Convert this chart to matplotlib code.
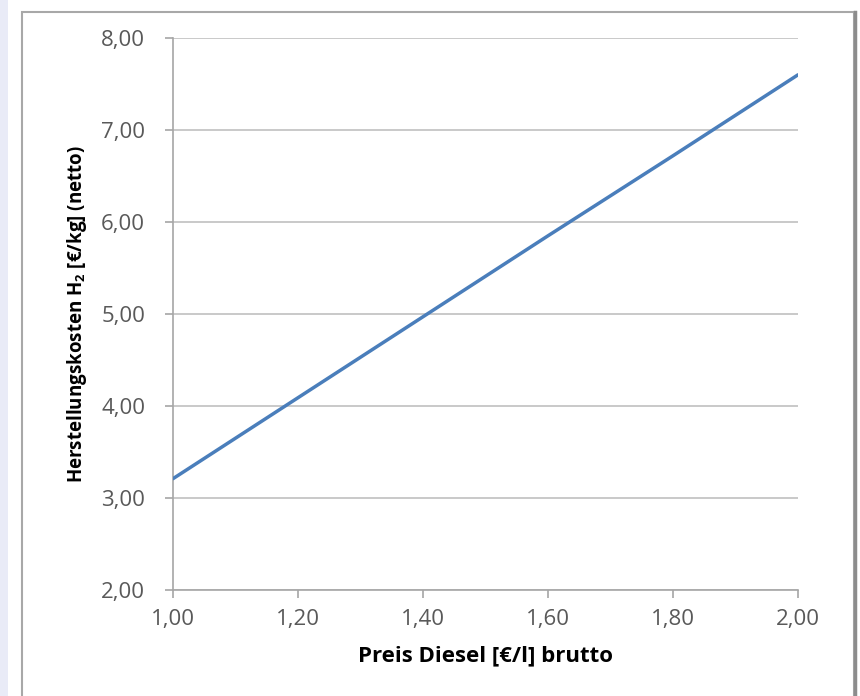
import matplotlib.pyplot as plt
from matplotlib.patches import Rectangle
from matplotlib.lines import Line2D
from matplotlib.ticker import FuncFormatter

# Data
diesel_price = [1.00, 1.20, 1.40, 1.60, 1.80, 2.00]
h2_cost = [3.21, 4.09, 4.97, 5.85, 6.72, 7.60]
x_ticks = [1.0, 1.2, 1.4, 1.6, 1.8, 2.0]
y_ticks = [2, 3, 4, 5, 6, 7, 8]

plt.rcParams["font.family"] = ["Open Sans", "DejaVu Sans"]
plt.rcParams["mathtext.fontset"] = "custom"
plt.rcParams["mathtext.rm"] = "Open Sans"
plt.rcParams["mathtext.bf"] = "Open Sans:bold"

W, H = 860, 696
fig = plt.figure(figsize=(W / 100, H / 100), dpi=100, facecolor="white")

# outer frame like the screenshot
fig.patches.append(Rectangle((0, 0), 8 / W, 1, transform=fig.transFigure,
                             facecolor="#e9ebf7", edgecolor="none", zorder=0))
fig.patches.append(Rectangle((22 / W, -0.01), (854 - 22) / W, 1 - 12 / H + 0.01,
                             transform=fig.transFigure, facecolor="none",
                             edgecolor="#a8a8a8", lw=1.5, zorder=0))
fig.lines.append(Line2D([855 / W, 855 / W], [0, 1 - 12 / H],
                        transform=fig.transFigure, color="#8c8c8c", lw=2.5))

ax = fig.add_axes([173 / W, 1 - 590 / H, (798 - 173) / W, (590 - 38) / H])
ax.plot(diesel_price, h2_cost, color="#4a7ebb", lw=2.5, solid_capstyle="round",
        zorder=3)

ax.set_xlim(1.0, 2.0)
ax.set_ylim(2, 8)
ax.set_xticks(x_ticks)
ax.set_yticks(y_ticks)
fmt = FuncFormatter(lambda v, _: f"{v:.2f}".replace(".", ","))
ax.xaxis.set_major_formatter(fmt)
ax.yaxis.set_major_formatter(fmt)

ax.grid(True, axis="y", color="#c0c0c0", lw=1.2)
ax.set_axisbelow(True)
for side in ("top", "right"):
    ax.spines[side].set_visible(False)
for side in ("left", "bottom"):
    ax.spines[side].set_color("#a6a6a6")
    ax.spines[side].set_linewidth(1.2)
ax.tick_params(axis="both", direction="out", length=6, width=1.2,
               color="#a6a6a6", labelcolor="#595959", labelsize=16)
ax.tick_params(axis="y", pad=14)
ax.tick_params(axis="x", pad=8)

ax.set_xlabel("Preis Diesel [€/l] brutto", fontsize=16, fontweight="bold",
              labelpad=11)
ax.set_ylabel(r"Herstellungskosten H$_\mathbf{2}$ [€/kg] (netto)", fontsize=13.5,
              fontweight="bold")
ax.yaxis.set_label_coords(-0.135, 0.5)

fig.savefig("out.png", dpi=100, facecolor=fig.get_facecolor())
